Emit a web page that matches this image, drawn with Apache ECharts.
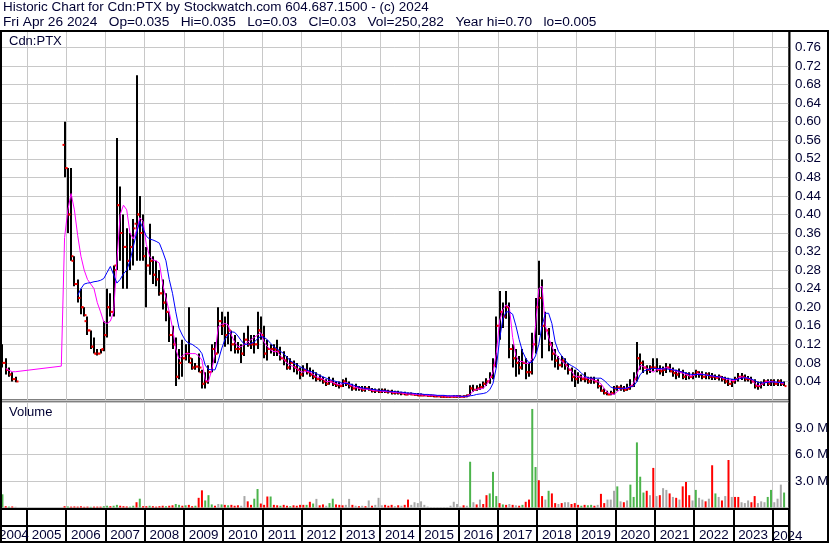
<!DOCTYPE html>
<html><head><meta charset="utf-8">
<script src="https://cdn.jsdelivr.net/npm/echarts/dist/echarts.min.js"></script>
<style>html,body{margin:0;padding:0;background:#fff}#c{width:830px;height:543px}</style>
</head><body><div id="c"></div>
<script>
// ---------- DATA (monthly, May 2004 .. May 2024) ----------
const FIRST_YEAR = 2004, FIRST_MONTH = 5, MONTH_COUNT = 241;
const YEAR_LABELS = ['2004','2005','2006','2007','2008','2009','2010','2011','2012','2013','2014','2015','2016','2017','2018','2019','2020','2021','2022','2023','2024'];
const PRICE_TICKS = ['0.04','0.08','0.12','0.16','0.20','0.24','0.28','0.32','0.36','0.40','0.44','0.48','0.52','0.56','0.60','0.64','0.68','0.72','0.76'];
const VOLUME_TICKS = ['3.0 M','6.0 M','9.0 M'];
const N = null;
const OPEN = [
 .115,.08,.065,.055,.045,N,N,N,
 N,N,N,N,N,N,N,N,N,N,N,.55,
 .50,.40,.30,.25,.22,.20,.17,.15,.115,.10,.10,.11,
 .14,.20,.19,.29,.42,.36,.33,.30,.33,.38,.40,.36,
 .31,.29,.30,.27,.26,.23,.21,.19,.14,.12,.05,.08,
 .09,.10,.08,.07,.072,.06,.035,.04,.06,.11,.10,.17,
 .16,.14,.15,.12,.11,.11,.10,.13,.12,.12,.12,.15,
 .14,.10,.11,.11,.11,.105,.09,.085,.07,.08,.07,.065,
 .055,.065,.06,.055,.05,.045,.045,.04,.035,.04,.035,.032,
 .03,.04,.035,.03,.025,.028,.025,.022,.025,.022,.02,.02,
 .018,.02,.018,.018,.015,.016,.015,.014,.012,.013,.012,.011,
 .01,.01,.01,.009,.009,.008,.008,.007,.007,.007,.007,.007,
 .008,.007,.008,.01,.025,.022,.025,.028,.035,.04,.05,.075,
 .16,.19,.18,.20,.11,.09,.08,.07,.08,.06,.06,.12,
 .20,.22,.16,.15,.12,.10,.085,.075,.085,.075,.065,.05,
 .045,.05,.045,.045,.04,.045,.04,.03,.02,.015,.012,.015,
 .025,.027,.025,.022,.025,.03,.045,.09,.08,.07,.065,.07,
 .07,.065,.062,.065,.07,.062,.058,.055,.06,.05,.055,.05,
 .055,.06,.055,.05,.055,.05,.05,.048,.05,.045,.04,.035,
 .04,.045,.05,.05,.045,.045,.04,.03,.03,.035,.04,.035,
 .04,.035,.04,.035,N];
const HIGH = [
 .12,.09,.07,.06,.05,N,N,N,
 N,N,N,N,N,N,N,N,N,N,N,.60,
 .50,.50,.31,.26,.24,.20,.18,.15,.135,.11,.11,.17,
 .24,.23,.29,.565,.46,.40,.37,.36,.39,.70,.44,.40,
 .33,.38,.31,.30,.28,.26,.23,.19,.16,.135,.11,.13,
 .12,.20,.09,.08,.10,.065,.06,.075,.12,.125,.20,.19,
 .18,.19,.15,.14,.125,.12,.145,.16,.14,.14,.19,.18,
 .16,.13,.12,.12,.13,.115,.105,.095,.09,.085,.08,.07,
 .075,.08,.07,.065,.06,.055,.05,.045,.05,.048,.04,.04,
 .045,.048,.04,.035,.035,.03,.03,.03,.03,.026,.025,.025,
 .025,.025,.022,.022,.02,.02,.018,.018,.016,.016,.015,.015,
 .014,.013,.012,.012,.011,.01,.01,.01,.009,.009,.01,.01,
 .01,.01,.012,.032,.033,.032,.035,.04,.047,.06,.09,.18,
 .235,.21,.235,.21,.12,.11,.095,.11,.09,.08,.145,.22,
 .30,.26,.19,.155,.125,.11,.095,.095,.09,.08,.07,.065,
 .06,.055,.06,.05,.05,.05,.045,.032,.025,.02,.02,.03,
 .032,.033,.03,.035,.045,.06,.125,.10,.085,.075,.075,.09,
 .09,.075,.072,.08,.078,.07,.065,.068,.065,.06,.06,.06,
 .065,.062,.062,.06,.06,.058,.055,.055,.052,.05,.048,.045,
 .05,.058,.058,.055,.052,.05,.045,.04,.04,.045,.045,.045,
 .045,.045,.045,.04,N];
const LOW = [
 .07,.055,.05,.04,.038,N,N,N,
 N,N,N,N,N,N,N,N,N,N,N,.48,
 .36,.30,.245,.21,.185,.18,.14,.11,.10,.096,.10,.105,
 .135,.18,.18,.28,.30,.24,.24,.28,.29,.30,.30,.30,
 .20,.27,.25,.245,.225,.195,.17,.125,.11,.03,.045,.05,
 .085,.08,.065,.065,.06,.025,.025,.035,.06,.08,.10,.14,
 .115,.12,.105,.10,.10,.08,.095,.115,.11,.10,.11,.13,
 .09,.085,.10,.095,.095,.085,.075,.065,.065,.06,.055,.045,
 .05,.055,.05,.045,.04,.04,.035,.03,.033,.03,.028,.025,
 .028,.03,.025,.02,.02,.02,.018,.018,.02,.016,.015,.015,
 .015,.015,.014,.012,.012,.012,.01,.01,.01,.01,.009,.008,
 .008,.008,.007,.007,.006,.006,.005,.005,.005,.005,.005,.005,
 .005,.005,.006,.01,.018,.02,.022,.025,.03,.035,.045,.07,
 .13,.155,.175,.09,.07,.05,.055,.065,.045,.05,.055,.10,
 .14,.09,.13,.105,.085,.07,.065,.07,.065,.055,.04,.028,
 .035,.04,.038,.035,.035,.035,.025,.018,.012,.01,.01,.012,
 .02,.02,.018,.02,.022,.028,.04,.065,.058,.055,.058,.062,
 .06,.055,.052,.058,.06,.05,.045,.048,.045,.043,.045,.045,
 .048,.048,.045,.045,.045,.043,.043,.042,.04,.035,.03,.028,
 .035,.04,.043,.04,.04,.035,.025,.022,.025,.03,.03,.03,
 .03,.03,.03,.03,N];
const CLOSE = [
 .08,.065,.055,.045,.04,N,N,N,
 N,N,N,N,N,N,N,N,N,N,N,.50,
 .40,.31,.25,.22,.20,.183,.15,.115,.10,.10,.108,.14,
 .20,.19,.28,.42,.36,.33,.30,.33,.37,.40,.36,.31,
 .29,.30,.27,.26,.23,.21,.19,.14,.12,.05,.08,.09,
 .10,.09,.07,.072,.07,.035,.04,.06,.11,.10,.17,.16,
 .14,.15,.12,.11,.11,.10,.13,.12,.12,.12,.15,.14,
 .10,.11,.11,.105,.105,.09,.085,.07,.08,.07,.065,.055,
 .065,.06,.055,.05,.045,.045,.04,.035,.04,.035,.032,.03,
 .04,.035,.03,.025,.028,.025,.022,.025,.022,.02,.02,.018,
 .02,.018,.018,.015,.016,.015,.014,.012,.013,.012,.011,.01,
 .01,.01,.009,.009,.008,.008,.007,.007,.007,.007,.007,.008,
 .007,.008,.01,.025,.022,.025,.028,.035,.04,.05,.075,.16,
 .19,.18,.20,.11,.09,.08,.07,.08,.06,.06,.12,.20,
 .22,.16,.15,.12,.10,.085,.075,.085,.075,.065,.05,.045,
 .05,.045,.045,.04,.045,.04,.03,.02,.015,.012,.015,.025,
 .027,.025,.022,.025,.03,.045,.09,.08,.07,.065,.07,.07,
 .065,.062,.065,.07,.062,.058,.055,.06,.05,.055,.05,.055,
 .06,.055,.05,.055,.05,.05,.048,.05,.045,.04,.035,.04,
 .045,.05,.05,.045,.045,.04,.03,.03,.035,.04,.035,.04,
 .035,.04,.035,.03,N];
const MA_SHORT = [
 N,.068,.064,.061,.061,N,N,N,
 N,N,N,N,N,N,N,N,N,N,.073,.35,
 .41,.445,.41,.355,.31,.28,.26,.25,.24,.21,.19,.168,
 .165,.17,.19,.30,.40,.42,.41,.36,.347,.365,.393,.385,
 .335,.31,.302,.30,.295,.25,.22,.19,.155,.11,.088,.095,
 .10,.10,.10,.10,.095,.086,.043,.04,.065,.10,.158,.163,
 .165,.162,.14,.125,.115,.115,.12,.125,.13,.135,.14,.145,
 .125,.115,.108,.104,.105,.095,.088,.08,.075,.072,.068,.062,
 .06,.062,.06,.055,.05,.048,.045,.04,.04,.038,.035,.033,
 .035,.038,.034,.03,.027,.025,.024,.023,.023,.021,.02,.02,
 .019,.018,.018,.017,.016,.016,.015,.014,.013,.013,.012,.012,
 .011,.011,.01,.01,.01,.009,.009,.009,.008,.008,.008,.008,
 .007,.007,.008,.012,.02,.023,.024,.025,.033,.045,.06,.10,
 .17,.195,.205,.20,.135,.095,.083,.083,.079,.079,.09,.16,
 .24,.245,.16,.135,.115,.10,.092,.083,.079,.07,.062,.052,
 .05,.05,.048,.047,.045,.042,.04,.035,.025,.016,.013,.012,
 .018,.024,.025,.025,.03,.036,.055,.075,.072,.068,.064,.06,
 .065,.066,.067,.07,.068,.065,.062,.06,.058,.055,.052,.052,
 .055,.057,.056,.054,.053,.052,.05,.05,.048,.046,.044,.042,
 .042,.048,.05,.048,.047,.044,.036,.03,.033,.038,.04,.04,
 .039,.038,.037,.036,N];
const MA_LONG = [
 N,N,N,N,N,N,N,N,
 N,N,N,N,N,N,N,N,N,N,N,N,
 N,N,N,.225,.24,.25,.252,.253,.255,.256,.258,.262,
 .275,.288,.27,.252,.26,.272,.28,.30,.33,.36,.385,.37,
 .353,.347,.345,.342,.338,.32,.30,.26,.23,.19,.155,.14,
 .128,.122,.12,.115,.11,.10,.075,.066,.065,.065,.085,.11,
 .13,.14,.147,.146,.138,.128,.12,.12,.122,.125,.132,.137,
 .135,.13,.122,.115,.11,.105,.10,.092,.085,.08,.076,.072,
 .068,.065,.062,.06,.057,.053,.05,.047,.044,.042,.04,.038,
 .036,.036,.035,.033,.03,.028,.026,.025,.024,.023,.022,.021,
 .02,.02,.019,.018,.018,.017,.017,.016,.015,.015,.014,.013,
 .013,.012,.012,.011,.011,.01,.01,.01,.009,.009,.009,.009,
 .008,.008,.008,.009,.01,.012,.013,.014,.016,.022,.036,.07,
 .13,.175,.19,.19,.185,.16,.13,.105,.09,.08,.082,.095,
 .12,.16,.187,.187,.165,.125,.105,.095,.086,.078,.074,.07,
 .065,.058,.052,.048,.047,.047,.047,.047,.042,.035,.028,.025,
 .025,.025,.025,.026,.028,.03,.04,.055,.062,.065,.067,.068,
 .068,.068,.067,.067,.066,.065,.064,.062,.06,.058,.056,.055,
 .055,.055,.055,.054,.053,.052,.051,.05,.049,.047,.046,.045,
 .044,.045,.047,.048,.047,.045,.042,.038,.037,.037,.038,.039,
 .039,.038,.038,.037,N];
// volume in millions of shares
const VOLUME = [
 1.5,.15,.1,.12,.08,N,N,N,
 N,N,N,N,N,N,N,N,N,N,N,.15,
 .12,.1,.12,.1,.14,.08,.1,.08,.1,.1,.1,.15,
 .2,.15,.2,.3,.2,.15,.12,.1,.2,.6,1.0,.15,
 .15,.2,.15,.1,.15,.2,.15,.2,.25,.4,.3,.2,
 .25,.3,.15,.2,1.1,1.95,.8,1.4,.35,.2,.4,.35,
 .3,.25,.3,.2,.25,.2,1.3,.7,.3,1.0,2.1,.45,
 .3,1.25,1.25,.3,.25,.2,.3,.2,.15,.25,.2,.3,
 .3,.3,.65,.45,.98,.25,.35,.2,.5,1.0,.35,.3,
 .25,.3,.98,.3,.2,.15,.2,.15,.8,.2,.3,1.1,
 .25,.3,.2,.3,.15,.25,.2,.3,.9,.3,.6,.5,
 .7,.3,.1,.05,.05,.05,.05,.05,.05,.2,.65,.4,
 .1,.25,.2,5.2,.6,.35,.9,.4,1.4,1.6,4.05,1.3,
 .5,.35,.3,.4,.3,.25,.2,.3,.65,.9,11.2,4.6,
 3.1,1.3,.9,1.9,1.6,.5,.4,.5,.6,.6,.4,.5,
 .3,.2,.3,.25,.3,.2,.3,1.55,.5,.9,.9,1.9,
 2.4,.7,.6,.8,2.6,1.2,7.4,3.5,1.7,1.9,1.4,4.5,
 1.3,1.4,2.2,2.0,1.6,1.2,1.1,.9,2.4,2.9,1.4,.8,
 2.0,1.1,.9,.7,1.0,4.8,1.6,1.2,.8,1.3,5.4,1.2,
 1.2,1.2,.6,.5,.8,.6,1.3,.5,.7,.6,1.2,2.0,
 .6,1.0,2.6,1.7,N];
// g = up day (green), r = down day (red), n = unchanged (grey)
const VOL_DIR = (
 'grgrn___' +
 '___________r' +
 'grrrrrrgrrrg' +
 'grggrrrggrgr' +
 'rgrrrrgrrggr' +
 'grrgrrgggrng' +
 'rgrrrnnrrggr' +
 'rrgrrgrrgrrr' +
 'rgrgnrrnggrr' +
 'rnnrnrnrnrnn' +
 'nrrrnrnrrnnn' +
 'nnnnnnnnnnnn' +
 'nrngnrnrrggg' +
 'rgrnrnrgrrgg' +
 'rrngrrnrnnrr' +
 'rgrggrnrrnnn' +
 'gnrngggggrnr' +
 'nrnnrnrnrrrn' +
 'gnnrnrgnrnrn' +
 'rrnnnrrnnngg' +
 'nnng_').split('');

// ---------- BUILD ----------
const months = [];
for (let k = 0; k < MONTH_COUNT; k++) {
  const m = FIRST_MONTH - 1 + k;
  months.push((FIRST_YEAR + Math.floor(m / 12)) + '-' + String(m % 12 + 1).padStart(2, '0'));
}
const isJan = (idx) => !!months[idx] && months[idx].slice(5) === '01';
const LAST_YEAR = YEAR_LABELS[YEAR_LABELS.length - 1];
const lastJanIdx = months.indexOf(LAST_YEAR + '-01');
const labelAt = {};
YEAR_LABELS.forEach(y => {
  const Y = +y;
  if (y === LAST_YEAR) return;               // drawn left-aligned on the lower axis
  const idx = (Y === FIRST_YEAR) ? 4 : (Y - FIRST_YEAR) * 12 + 6 - (FIRST_MONTH - 1);
  labelAt[idx] = y;
});

const ohlc = [];
for (let i = 0; i < MONTH_COUNT; i++) {
  if (HIGH[i] != null) ohlc.push([i, OPEN[i], HIGH[i], LOW[i], CLOSE[i]]);
}
const COLORS = { g: '#4cb44c', r: '#ff0000', n: '#a8a8a8' };
const volData = VOLUME.map((v, i) => v == null ? null : { value: v, itemStyle: { color: COLORS[VOL_DIR[i]] } });

const TXT = '#000033';
const FONT = 'Liberation Sans, Arial, sans-serif';

function renderOHLC(params, api) {
  const i = api.value(0);
  const pH = api.coord([i, api.value(2)]);
  const pL = api.coord([i, api.value(3)]);
  const pO = api.coord([i, api.value(1)]);
  const pC = api.coord([i, api.value(4)]);
  const x = Math.round(pH[0]);
  return {
    type: 'group',
    children: [
      { type: 'rect', shape: { x: x - 1, y: pH[1], width: 2, height: Math.max(1.5, pL[1] - pH[1]) }, style: { fill: '#000' } },
      { type: 'rect', shape: { x: x - 2.5, y: pO[1] - 1, width: 2, height: 2 }, style: { fill: '#ff0000' } },
      { type: 'rect', shape: { x: x + 0.5, y: pC[1] - 1, width: 2, height: 2 }, style: { fill: '#ff0000' } }
    ]
  };
}

const gridBase = { left: 0.8, width: 788.2, containLabel: false, outerBoundsMode: 'none' };
const catAxis = (gi, extra) => Object.assign({
  type: 'category', gridIndex: gi, data: months, boundaryGap: true,
  axisLine: { show: false }, axisTick: { show: false }, axisLabel: { show: false },
  splitLine: { show: true, interval: isJan, lineStyle: { color: '#c8c8c8', width: 1 } }
}, extra || {});

const title1Style = { fontSize: 13.45, fontWeight: 'normal', color: TXT, fontFamily: FONT };
const title2Style = { fontSize: 13.7, fontWeight: 'normal', color: TXT, fontFamily: FONT };
const labelStyle = { fontSize: 13, fontWeight: 'normal', color: TXT, fontFamily: FONT };
const chart = echarts.init(document.getElementById('c'), null, { renderer: 'canvas' });
chart.setOption({
  animation: false,
  backgroundColor: '#ffffff',
  textStyle: { fontFamily: FONT },
  title: [
    { text: 'Historic Chart for Cdn:PTX by Stockwatch.com 604.687.1500 - (c) 2024', left: 3, top: 1, padding: 0, textStyle: title1Style },
    { text: 'Fri Apr 26 2024   Op=0.035   Hi=0.035   Lo=0.03   Cl=0.03   Vol=250,282   Year hi=0.70   lo=0.005', left: 3, top: 15, padding: 0, textStyle: title2Style },
    { text: 'Cdn:PTX', left: 9, top: 35, padding: 0, textStyle: labelStyle },
    { text: 'Volume', left: 9, top: 406, padding: 0, textStyle: labelStyle }
  ],
  grid: [
    Object.assign({ top: 31, height: 369, show: true, borderColor: '#000', borderWidth: 1 }, gridBase),
    Object.assign({ top: 402, height: 105.5, show: true, borderColor: '#000', borderWidth: 1 }, gridBase),
    Object.assign({ top: 509, height: 17, show: false }, gridBase),
    Object.assign({ top: 526, height: 16, show: false }, gridBase)
  ],
  xAxis: [
    catAxis(0),
    catAxis(1),
    catAxis(2, {
      axisLine: { show: true, lineStyle: { color: '#000', width: 2 } },
      splitLine: { show: true, interval: isJan, lineStyle: { color: '#000', width: 2 } },
      axisLabel: { show: true, interval: (idx) => labelAt[idx] !== undefined, formatter: (v, idx) => labelAt[idx] || '',
        margin: 3, fontSize: 13.4, color: TXT, fontFamily: FONT, padding: [0, 3.27, 0, 0], hideOverlap: false,
        showMinLabel: true, showMaxLabel: true }
    }),
    catAxis(3, {
      axisLine: { show: true, lineStyle: { color: '#000', width: 2 } },
      splitLine: { show: true, interval: isJan, lineStyle: { color: '#000', width: 2 } },
      axisLabel: { show: true, inside: true, interval: (idx) => idx === lastJanIdx, formatter: () => LAST_YEAR,
        align: 'left', margin: -1, fontSize: 13.4, color: TXT, fontFamily: FONT, padding: [0, 0, 0, -1.6],
        showMinLabel: false, showMaxLabel: false, hideOverlap: false }
    })
  ],
  yAxis: [
    { type: 'value', gridIndex: 0, position: 'right', min: 0, max: 0.7955, interval: 0.04,
      axisLine: { show: false }, axisTick: { show: false },
      axisLabel: { margin: 6, fontSize: 13.4, color: TXT, fontFamily: FONT, showMinLabel: false, showMaxLabel: false,
        formatter: (v) => { const s = v.toFixed(2); return PRICE_TICKS.indexOf(s) >= 0 ? s : ''; } },
      splitLine: { show: true, lineStyle: { color: '#c8c8c8', width: 1 } } },
    { type: 'value', gridIndex: 1, position: 'right', min: 0, max: 11.99, interval: 3,
      axisLine: { show: false }, axisTick: { show: false },
      axisLabel: { margin: 6, fontSize: 13.4, color: TXT, fontFamily: FONT, showMinLabel: false, showMaxLabel: false,
        formatter: (v) => { const s = v.toFixed(1) + ' M'; return VOLUME_TICKS.indexOf(s) >= 0 ? s : ''; } },
      splitLine: { show: true, lineStyle: { color: '#c8c8c8', width: 1 } } },
    { type: 'value', gridIndex: 2, show: false },
    { type: 'value', gridIndex: 3, show: false }
  ],
  series: [
    { type: 'custom', name: 'PTX', xAxisIndex: 0, yAxisIndex: 0, renderItem: renderOHLC,
      encode: { x: 0, y: [1, 2, 3, 4] }, data: ohlc, z: 2, clip: true },
    { type: 'line', name: 'MA short', xAxisIndex: 0, yAxisIndex: 0, data: MA_SHORT, connectNulls: true,
      showSymbol: false, symbol: 'none', lineStyle: { color: '#ff00ff', width: 1 }, z: 4 },
    { type: 'line', name: 'MA long', xAxisIndex: 0, yAxisIndex: 0, data: MA_LONG, connectNulls: false,
      showSymbol: false, symbol: 'none', lineStyle: { color: '#0000ff', width: 1 }, z: 5 },
    { type: 'bar', name: 'Volume', xAxisIndex: 1, yAxisIndex: 1, data: volData, barWidth: 2, z: 2 }
  ],
  graphic: [
    { type: 'rect', shape: { x: 1, y: 31, width: 827, height: 511 }, style: { stroke: '#000', lineWidth: 2, fill: null }, z: 100 },
    { type: 'line', shape: { x1: 789.5, y1: 31, x2: 789.5, y2: 542 }, style: { stroke: '#000', lineWidth: 2 }, z: 100 },
    { type: 'line', shape: { x1: 1, y1: 509, x2: 789.5, y2: 509 }, style: { stroke: '#000', lineWidth: 2 }, z: 100 }
  ]
});
</script>
</body></html>
